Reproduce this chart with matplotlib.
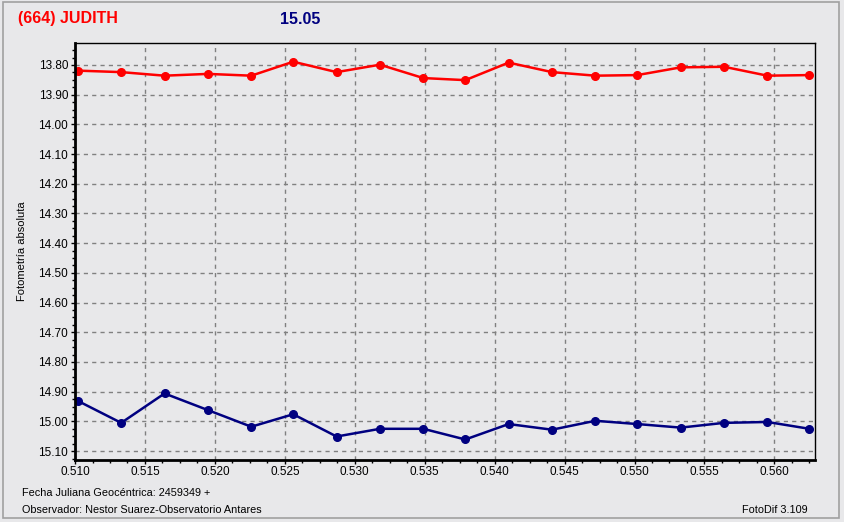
import matplotlib
matplotlib.use("Agg")
import matplotlib.pyplot as plt
from matplotlib.patches import Rectangle
from matplotlib.ticker import MultipleLocator, FormatStrFormatter

# Julian date fraction (2459349 + x)
JD = [0.5102, 0.5133, 0.5164, 0.5195, 0.5226, 0.5256, 0.5287, 0.5318, 0.5349,
      0.5379, 0.5410, 0.5441, 0.5472, 0.5502, 0.5533, 0.5564, 0.5595, 0.5625]

# absolute photometry of the target (red) and comparison (blue)
MAG_TARGET = [13.819, 13.824, 13.836, 13.830, 13.836, 13.789, 13.824, 13.799, 13.844,
              13.851, 13.792, 13.824, 13.836, 13.834, 13.808, 13.806, 13.836, 13.834]
MAG_COMP = [14.931, 15.005, 14.906, 14.962, 15.018, 14.976, 15.051, 15.025, 15.025,
            15.061, 15.009, 15.028, 14.998, 15.009, 15.021, 15.005, 15.002, 15.025]

BG = "#e8e8ea"

plt.rcParams["font.family"] = ["Liberation Sans", "DejaVu Sans"]

fig = plt.figure(figsize=(8.44, 5.22), dpi=100, facecolor=BG)
fig.patches.append(Rectangle((0.003, 0.008), 0.991, 0.988, transform=fig.transFigure,
                             fill=False, edgecolor="#a0a0a0", linewidth=1.2))

ax = fig.add_axes([0.0889, 0.1188, 0.8767, 0.7988], facecolor=BG)
ax.plot(JD, MAG_TARGET, color="#ff0000", marker="o", markersize=5.5, linewidth=1.8)
ax.plot(JD, MAG_COMP, color="#000080", marker="o", markersize=5.5, linewidth=1.8)

ax.set_xlim(0.510, 0.5629)
ax.set_ylim(15.130, 13.726)
ax.xaxis.set_major_locator(MultipleLocator(0.005))
ax.xaxis.set_minor_locator(MultipleLocator(0.00125))
ax.xaxis.set_major_formatter(FormatStrFormatter("%.3f"))
ax.yaxis.set_major_locator(MultipleLocator(0.1))
ax.yaxis.set_minor_locator(MultipleLocator(0.025))
ax.yaxis.set_major_formatter(FormatStrFormatter("%.2f"))
ax.tick_params(axis="both", which="major", labelsize=8.5, length=3, width=1)
ax.tick_params(axis="y", which="major", pad=2)
ax.tick_params(axis="x", which="major", pad=1)
ax.tick_params(axis="both", which="minor", length=2, width=1)
ax.grid(True, which="major", linestyle=(0, (3, 3)), color="#808080", linewidth=1)

for side in ("top", "right"):
    ax.spines[side].set_linewidth(1)
for side in ("left", "bottom"):
    ax.spines[side].set_linewidth(2)

ax.set_ylabel("Fotometría absoluta", fontsize=8, labelpad=8)

fig.text(18 / 844, 1 - 19 / 522, "(664) JUDITH", color="#ff0000", fontsize=11.5,
         fontweight="bold", va="center", ha="left")
fig.text(280 / 844, 1 - 19 / 522, "15.05", color="#000080", fontsize=11.5,
         fontweight="bold", va="center", ha="left")
fig.text(22 / 844, 1 - 493 / 522, "Fecha Juliana Geocéntrica: 2459349 +", fontsize=7.8,
         va="center", ha="left")
fig.text(22 / 844, 1 - 510 / 522, "Observador: Nestor Suarez-Observatorio Antares",
         fontsize=7.8, va="center", ha="left")
fig.text(808 / 844, 1 - 510 / 522, "FotoDif 3.109", fontsize=7.8, va="center", ha="right")

fig.savefig("out.png", dpi=100, facecolor=BG)
